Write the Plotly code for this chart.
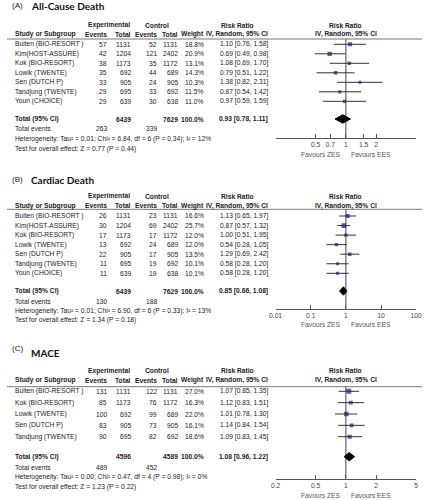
import math
import plotly.graph_objects as go

W, H = 428, 500

# ---------------- data ----------------
studies_A = ["Buiten (BIO-RESORT )", "Kim(HOST-ASSURE)", "Kok (BIO-RESORT)", "Lowik (TWENTE)",
             "Sen (DUTCH P)", "Tandjung (TWENTE)", "Youn (CHOICE)"]
exp_events_A = [57, 42, 38, 35, 33, 29, 29]
exp_total_A = [1131, 1204, 1173, 692, 905, 695, 639]
ctl_events_A = [52, 121, 35, 44, 24, 33, 30]
ctl_total_A = [1131, 2402, 1172, 689, 905, 692, 638]
weight_A = [18.8, 20.9, 13.1, 14.3, 10.3, 11.5, 11.0]
rr_A = [1.10, 0.69, 1.08, 0.79, 1.38, 0.87, 0.97]
lo_A = [0.76, 0.49, 0.69, 0.51, 0.82, 0.54, 0.59]
hi_A = [1.58, 0.98, 1.70, 1.22, 2.31, 1.42, 1.59]
tot_A = [6439, 7629, 263, 339, 0.93, 0.78, 1.11]
het_A = "Heterogeneity: Tau² = 0.01; Chi² = 6.84, df = 6 (P = 0.34); I² = 12%"
test_A = "Test for overall effect: Z = 0.77 (P = 0.44)"
ticks_A = [0.5, 0.7, 1, 1.5, 2]
range_A = [0.2, 5]

studies_B = studies_A
exp_events_B = [26, 30, 17, 13, 22, 11, 11]
exp_total_B = exp_total_A
ctl_events_B = [23, 69, 17, 24, 17, 19, 19]
ctl_total_B = ctl_total_A
weight_B = [16.6, 25.7, 12.0, 12.0, 13.5, 10.1, 10.1]
rr_B = [1.13, 0.87, 1.00, 0.54, 1.29, 0.58, 0.58]
lo_B = [0.65, 0.57, 0.51, 0.28, 0.69, 0.28, 0.28]
hi_B = [1.97, 1.32, 1.95, 1.05, 2.42, 1.20, 1.20]
tot_B = [6439, 7629, 130, 188, 0.85, 0.66, 1.08]
het_B = "Heterogeneity: Tau² = 0.01; Chi² = 6.90, df = 6 (P = 0.33); I² = 13%"
test_B = "Test for overall effect: Z = 1.34 (P = 0.18)"
ticks_B = [0.01, 0.1, 1, 10, 100]
range_B = [0.01, 100]

studies_C = ["Buiten (BIO-RESORT )", "Kok (BIO-RESORT)", "Lowik (TWENTE)", "Sen (DUTCH P)", "Tandjung (TWENTE)"]
exp_events_C = [131, 85, 100, 83, 90]
exp_total_C = [1131, 1173, 692, 905, 695]
ctl_events_C = [122, 76, 99, 73, 82]
ctl_total_C = [1131, 1172, 689, 905, 692]
weight_C = [27.0, 16.3, 22.0, 16.1, 18.6]
rr_C = [1.07, 1.12, 1.01, 1.14, 1.09]
lo_C = [0.85, 0.83, 0.78, 0.84, 0.83]
hi_C = [1.35, 1.51, 1.30, 1.54, 1.45]
tot_C = [4596, 4589, 489, 452, 1.08, 0.96, 1.22]
het_C = "Heterogeneity: Tau² = 0.00; Chi² = 0.47, df = 4 (P = 0.98); I² = 0%"
test_C = "Test for overall effect: Z = 1.23 (P = 0.22)"
ticks_C = [0.2, 0.5, 1, 2, 5]
range_C = [0.2, 5]

# ---------------- layout positions (pixels) ----------------
panels = [
    dict(lab="(A)", title="All-Cause Death", studies=studies_A, ee=exp_events_A, et=exp_total_A,
         ce=ctl_events_A, ct=ctl_total_A, w=weight_A, rr=rr_A, lo=lo_A, hi=hi_A, tot=tot_A,
         het=het_A, test=test_A, ticks=ticks_A, rng=range_A,
         lab_y=5, title_y=6, h1=25, h2=34, line=39, axis=138, row0=44.3, pitch=9.5,
         total=119, events=128.7, hety=139.3, testy=149.3, fav=154),
    dict(lab="(B)", title="Cardiac Death", studies=studies_B, ee=exp_events_B, et=exp_total_B,
         ce=ctl_events_B, ct=ctl_total_B, w=weight_B, rr=rr_B, lo=lo_B, hi=hi_B, tot=tot_B,
         het=het_B, test=test_B, ticks=ticks_B, rng=range_B,
         lab_y=179, title_y=180, h1=196, h2=205.7, line=209.3, axis=309.3, row0=216, pitch=9.55,
         total=291, events=301, hety=310.7, testy=320.3, fav=324.3),
    dict(lab="(C)", title="MACE", studies=studies_C, ee=exp_events_C, et=exp_total_C,
         ce=ctl_events_C, ct=ctl_total_C, w=weight_C, rr=rr_C, lo=lo_C, hi=hi_C, tot=tot_C,
         het=het_C, test=test_C, ticks=ticks_C, rng=range_C,
         lab_y=348, title_y=352.7, h1=370.7, h2=380, line=386.7, axis=479, row0=391.3, pitch=11.35,
         total=456.7, events=467.3, hety=477, testy=486.7, fav=495),
]

FX0, FX1 = 277 / W, 422 / W
FXC = (FX0 + FX1) / 2
COL = dict(name=6, ee=105, et=130, ce=157, ct=178, w=205, rr=271)
FONT = "Liberation Sans, Arial, sans-serif"
TXT = "#222222"
FS = 6.7


def px(x):
    return x / W


def py(y):
    return 1 - y / H


fig = go.Figure()
annotations = []
shapes = []
layout_axes = {}


def ann(text, x, y, xanchor="left", size=FS, color=TXT, family=FONT):
    annotations.append(dict(text=text, x=x, y=y, xref="paper", yref="paper", xanchor=xanchor,
                            yanchor="middle", showarrow=False,
                            font=dict(family=family, size=size, color=color)))


for k, p in enumerate(panels):
    n = k + 1
    xa = "x" if n == 1 else f"x{n}"
    ya = "y" if n == 1 else f"y{n}"
    r_top = (p["line"] - p["row0"]) / p["pitch"]
    r_bot = (p["axis"] - p["row0"]) / p["pitch"]
    rows = list(range(len(p["studies"])))

    # axes
    layout_axes["xaxis" if n == 1 else f"xaxis{n}"] = dict(
        domain=[FX0, FX1], anchor=ya, type="log",
        range=[math.log10(p["rng"][0]), math.log10(p["rng"][1])],
        tickvals=p["ticks"], ticktext=[f"{t:g}" for t in p["ticks"]],
        ticks="inside", ticklen=4, tickcolor="#555", tickwidth=1,
        showline=True, linecolor="#555", linewidth=1, showgrid=False, zeroline=False,
        tickfont=dict(family=FONT, size=FS, color="#444"), fixedrange=True)
    layout_axes["yaxis" if n == 1 else f"yaxis{n}"] = dict(
        domain=[py(p["axis"]), py(p["line"])], anchor=xa, range=[r_bot, r_top],
        visible=False, fixedrange=True)

    # vertical line of no effect
    fig.add_trace(go.Scatter(x=[1, 1], y=[r_top, r_bot], mode="lines",
                             line=dict(color="#444", width=1), xaxis=xa, yaxis=ya,
                             showlegend=False, hoverinfo="skip"))
    # study estimates with CI
    fig.add_trace(go.Scatter(
        x=p["rr"], y=rows, mode="markers", xaxis=xa, yaxis=ya, showlegend=False,
        marker=dict(symbol="square", color="#1c1c78",
                    size=[0.95 * math.sqrt(w) for w in p["w"]], line=dict(width=0)),
        error_x=dict(type="data", symmetric=False,
                     array=[h - r for h, r in zip(p["hi"], p["rr"])],
                     arrayminus=[r - l for r, l in zip(p["rr"], p["lo"])],
                     color="#333", thickness=1, width=0)))
    # pooled diamond
    t = p["tot"]
    yt = (p["total"] - p["row0"]) / p["pitch"]
    hh = 4.2 / p["pitch"]
    fig.add_trace(go.Scatter(x=[t[5], t[4], t[6], t[4], t[5]], y=[yt, yt - hh, yt, yt + hh, yt],
                             mode="lines", fill="toself", fillcolor="#000", line=dict(color="#000", width=1),
                             xaxis=xa, yaxis=ya, showlegend=False, hoverinfo="skip"))

    # header separator line
    shapes.append(dict(type="line", xref="paper", yref="paper", x0=0, x1=1,
                       y0=py(p["line"]), y1=py(p["line"]), line=dict(color="#777", width=1)))

    # titles
    ann(p["lab"], px(3), py(p["lab_y"]), size=8)
    ann(f"<b>{p['title']}</b>", px(23), py(p["title_y"]), size=10,
        family="Lato, Open Sans, sans-serif", color="#111")

    # headers
    ann("<b>Experimental</b>", px(105), py(p["h1"]), xanchor="center")
    ann("<b>Control</b>", px(155), py(p["h1"]), xanchor="center")
    ann("<b>Risk Ratio</b>", px(238), py(p["h1"]), xanchor="center")
    ann("<b>Risk Ratio</b>", FXC, py(p["h1"]), xanchor="center")
    ann("<b>Study or Subgroup</b>", px(COL["name"]), py(p["h2"]))
    ann("<b>Events</b>", px(COL["ee"]), py(p["h2"]), xanchor="right")
    ann("<b>Total</b>", px(COL["et"]), py(p["h2"]), xanchor="right")
    ann("<b>Events</b>", px(COL["ce"]), py(p["h2"]), xanchor="right")
    ann("<b>Total</b>", px(COL["ct"]), py(p["h2"]), xanchor="right")
    ann("<b>Weight</b>", px(COL["w"]), py(p["h2"]), xanchor="right")
    ann("<b>IV, Random, 95% CI</b>", px(COL["rr"]), py(p["h2"]), xanchor="right")
    ann("<b>IV, Random, 95% CI</b>", FXC, py(p["h2"]), xanchor="center")

    # study rows
    for i, s in enumerate(p["studies"]):
        yr = py(p["row0"] + p["pitch"] * i)
        ann(s, px(COL["name"]), yr)
        ann(str(p["ee"][i]), px(COL["ee"]), yr, xanchor="right")
        ann(str(p["et"][i]), px(COL["et"]), yr, xanchor="right")
        ann(str(p["ce"][i]), px(COL["ce"]), yr, xanchor="right")
        ann(str(p["ct"][i]), px(COL["ct"]), yr, xanchor="right")
        ann(f"{p['w'][i]:.1f}%", px(COL["w"]), yr, xanchor="right")
        ann(f"{p['rr'][i]:.2f} [{p['lo'][i]:.2f}, {p['hi'][i]:.2f}]", px(COL["rr"]), yr, xanchor="right")

    # totals
    ann("<b>Total (95% CI)</b>", px(COL["name"]), py(p["total"]))
    ann(f"<b>{t[0]}</b>", px(COL["et"]), py(p["total"]), xanchor="right")
    ann(f"<b>{t[1]}</b>", px(COL["ct"]), py(p["total"]), xanchor="right")
    ann("<b>100.0%</b>", px(COL["w"]), py(p["total"]), xanchor="right")
    ann(f"<b>{t[4]:.2f} [{t[5]:.2f}, {t[6]:.2f}]</b>", px(COL["rr"]), py(p["total"]), xanchor="right")
    ann("Total events", px(COL["name"]), py(p["events"]))
    ann(str(t[2]), px(COL["ee"]), py(p["events"]), xanchor="right")
    ann(str(t[3]), px(COL["ce"]), py(p["events"]), xanchor="right")
    ann(p["het"], px(COL["name"]), py(p["hety"]))
    ann(p["test"], px(COL["name"]), py(p["testy"]))

    # favours labels
    ann("Favours ZES", FXC - px(3), py(p["fav"]), xanchor="right", color="#555")
    ann("Favours EES", FXC + px(3), py(p["fav"]), xanchor="left", color="#555")

fig.update_layout(width=W, height=H, margin=dict(l=0, r=0, t=0, b=0),
                  paper_bgcolor="white", plot_bgcolor="white",
                  annotations=annotations, shapes=shapes, showlegend=False,
                  **layout_axes)
fig.write_html("out.html", config={"displayModeBar": False},
               post_script="document.body.style.margin='0';document.body.style.padding='0';"
                           "document.body.style.overflow='hidden';")
